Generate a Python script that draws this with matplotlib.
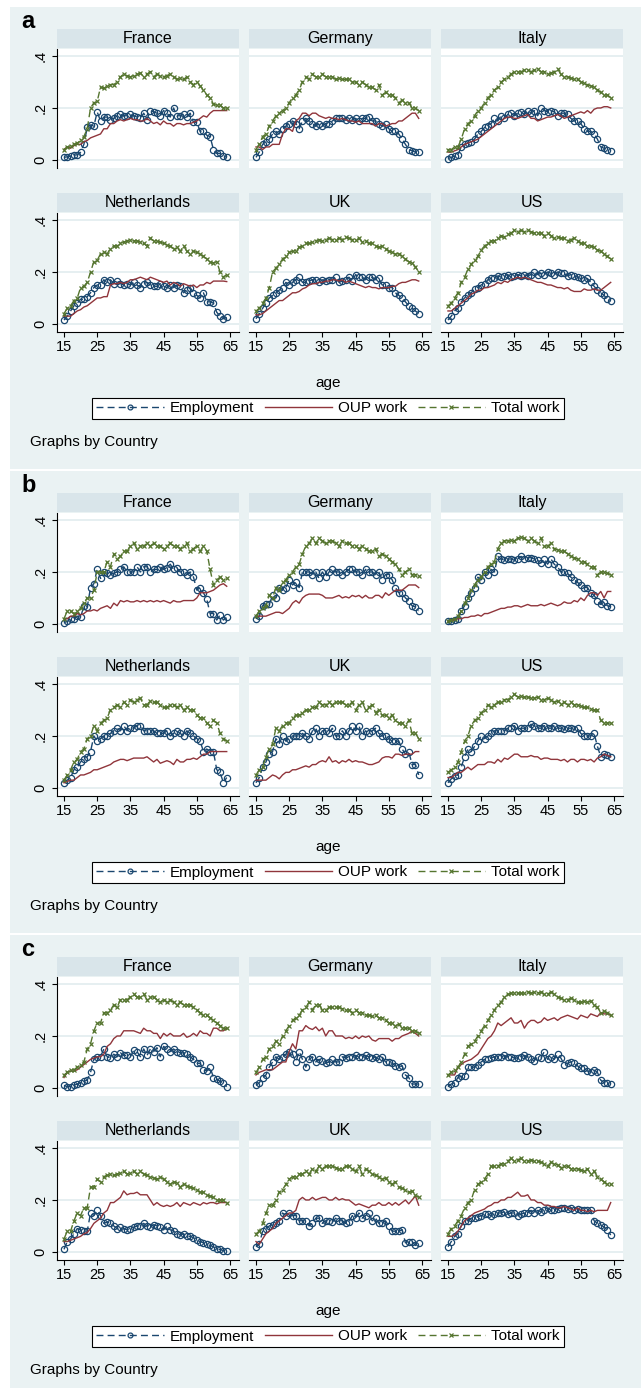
import matplotlib
matplotlib.use('Agg')
import matplotlib.pyplot as plt
from matplotlib.patches import Rectangle
from matplotlib.lines import Line2D

plt.rcParams['font.family'] = ['Liberation Sans', 'DejaVu Sans']

ages = list(range(15, 65))
countries = ["France", "Germany", "Italy", "Netherlands", "UK", "US"]
series_labels = ["Employment", "OUP work", "Total work"]
xtick_vals = [15, 25, 35, 45, 55, 65]
ytick_vals = [0, 0.2, 0.4]
ytick_text = ["0", ".2", ".4"]

# ---- panel a ----
a_fr_emp = [.010,.012,.015,.018,.020,.030,.060,.125,.135,.130,
            .185,.150,.165,.165,.155,.160,.170,.175,.170,.170,
            .175,.170,.165,.160,.180,.155,.190,.185,.180,.170,
            .190,.180,.165,.200,.170,.170,.175,.165,.180,.145,
            .145,.110,.110,.095,.090,.040,.025,.025,.015,.010]
a_fr_oup = [.040,.050,.045,.055,.060,.060,.070,.075,.085,.090,
            .095,.100,.120,.120,.140,.140,.150,.155,.150,.155,
            .160,.155,.155,.150,.150,.160,.150,.140,.145,.135,
            .150,.140,.140,.130,.140,.140,.135,.140,.140,.145,
            .150,.160,.170,.165,.180,.190,.190,.190,.190,.190]
a_fr_tot = [.040,.050,.055,.060,.065,.075,.090,.120,.200,.220,
            .225,.280,.275,.285,.290,.290,.300,.320,.330,.325,
            .320,.325,.330,.335,.320,.330,.340,.320,.330,.325,
            .320,.325,.330,.320,.310,.315,.310,.320,.300,.290,
            .300,.285,.270,.250,.240,.215,.210,.210,.200,.200]
a_de_emp = [.010,.030,.060,.070,.080,.100,.110,.100,.120,.130,
            .140,.150,.140,.120,.150,.160,.150,.140,.130,.140,
            .130,.140,.140,.150,.160,.160,.160,.155,.160,.155,
            .160,.150,.160,.160,.165,.150,.150,.140,.130,.140,
            .120,.110,.110,.100,.080,.060,.040,.035,.030,.030]
a_de_oup = [.050,.050,.040,.050,.050,.060,.060,.060,.100,.120,
            .120,.110,.150,.160,.180,.180,.170,.180,.180,.170,
            .165,.160,.165,.160,.160,.155,.160,.155,.150,.150,
            .145,.150,.140,.140,.140,.140,.130,.140,.140,.130,
            .135,.140,.140,.150,.150,.160,.170,.180,.180,.160]
a_de_tot = [.040,.060,.090,.100,.130,.150,.170,.180,.190,.200,
            .220,.240,.250,.270,.300,.320,.310,.330,.320,.320,
            .330,.320,.320,.320,.310,.315,.310,.310,.310,.300,
            .300,.290,.300,.290,.280,.280,.270,.290,.250,.260,
            .250,.250,.240,.220,.230,.220,.220,.200,.200,.190]
a_it_emp = [.005,.010,.015,.020,.050,.060,.065,.070,.080,.100,
            .110,.125,.130,.140,.160,.150,.170,.160,.175,.180,
            .170,.180,.185,.175,.190,.180,.190,.170,.200,.190,
            .185,.190,.185,.170,.180,.180,.175,.160,.150,.150,
            .140,.120,.110,.110,.100,.080,.050,.045,.040,.035]
a_it_oup = [.030,.030,.035,.040,.050,.060,.065,.070,.075,.080,
            .090,.100,.110,.120,.130,.140,.150,.160,.165,.165,
            .160,.160,.165,.170,.175,.160,.160,.150,.155,.160,
            .165,.165,.170,.175,.170,.160,.165,.170,.175,.180,
            .185,.180,.190,.180,.195,.200,.200,.205,.205,.200]
a_it_tot = [.040,.040,.050,.050,.080,.120,.140,.150,.170,.190,
            .200,.220,.240,.250,.270,.280,.300,.310,.320,.330,
            .340,.340,.340,.345,.345,.340,.345,.350,.340,.340,
            .330,.335,.340,.350,.330,.320,.320,.315,.310,.310,
            .300,.295,.290,.285,.280,.270,.260,.250,.250,.240]
a_nl_emp = [.015,.030,.050,.070,.080,.095,.095,.105,.120,.140,
            .150,.150,.170,.160,.170,.155,.165,.155,.150,.155,
            .150,.160,.150,.140,.155,.160,.150,.145,.145,.155,
            .145,.140,.150,.140,.150,.145,.120,.130,.140,.120,
            .110,.100,.120,.085,.085,.080,.045,.030,.020,.025]
a_nl_oup = [.030,.030,.030,.040,.050,.055,.065,.070,.080,.090,
            .100,.100,.105,.105,.150,.155,.155,.160,.155,.160,
            .170,.170,.175,.180,.175,.170,.180,.175,.170,.165,
            .160,.165,.150,.160,.155,.145,.155,.150,.145,.150,
            .140,.150,.150,.160,.155,.165,.165,.165,.165,.163]
a_nl_tot = [.040,.060,.070,.090,.100,.140,.145,.160,.200,.240,
            .245,.270,.275,.270,.290,.300,.300,.310,.315,.320,
            .325,.320,.320,.315,.310,.300,.330,.320,.320,.315,
            .310,.305,.300,.290,.295,.280,.300,.280,.270,.280,
            .275,.270,.260,.250,.240,.235,.240,.200,.180,.190]
a_uk_emp = [.020,.040,.060,.080,.100,.110,.120,.130,.140,.160,
            .150,.160,.170,.180,.160,.160,.165,.170,.170,.160,
            .170,.165,.170,.170,.180,.160,.165,.170,.180,.165,
            .190,.180,.180,.170,.180,.180,.170,.175,.150,.150,
            .140,.140,.120,.110,.100,.085,.070,.060,.050,.040]
a_uk_oup = [.035,.035,.040,.050,.060,.070,.080,.090,.090,.100,
            .110,.120,.120,.125,.135,.140,.150,.155,.155,.160,
            .160,.165,.165,.170,.170,.165,.170,.160,.165,.160,
            .155,.150,.145,.140,.145,.140,.140,.135,.140,.140,
            .140,.145,.145,.155,.160,.160,.165,.170,.170,.165]
a_uk_tot = [.050,.060,.080,.100,.140,.200,.215,.230,.250,.260,
            .275,.280,.280,.295,.300,.310,.310,.315,.320,.325,
            .320,.325,.330,.325,.325,.330,.325,.335,.330,.325,
            .325,.330,.315,.320,.310,.310,.300,.295,.300,.290,
            .280,.275,.270,.270,.260,.250,.240,.235,.220,.200]
a_us_emp = [.015,.030,.050,.060,.085,.100,.110,.120,.135,.140,
            .150,.155,.170,.175,.175,.185,.180,.185,.190,.180,
            .185,.190,.185,.190,.185,.190,.200,.190,.195,.190,
            .200,.195,.190,.200,.195,.195,.185,.190,.185,.180,
            .175,.170,.175,.160,.145,.130,.120,.110,.095,.090]
a_us_oup = [.050,.050,.060,.070,.080,.090,.100,.115,.120,.130,
            .130,.140,.140,.145,.150,.160,.155,.165,.160,.170,
            .175,.180,.175,.180,.175,.170,.165,.160,.160,.155,
            .150,.150,.145,.140,.140,.135,.140,.130,.125,.125,
            .125,.135,.130,.130,.135,.130,.130,.140,.150,.160]
a_us_tot = [.070,.080,.100,.120,.160,.180,.210,.230,.245,.260,
            .285,.300,.310,.320,.320,.330,.340,.335,.345,.350,
            .360,.355,.360,.355,.360,.355,.350,.350,.350,.340,
            .350,.340,.330,.335,.330,.330,.320,.325,.330,.320,
            .310,.310,.300,.300,.295,.285,.280,.270,.260,.250]

# ---- panel b ----
b_fr_emp = [.005,.010,.020,.020,.030,.025,.070,.065,.140,.155,
            .210,.175,.200,.195,.190,.195,.200,.210,.220,.200,
            .200,.200,.220,.200,.220,.220,.200,.210,.210,.220,
            .210,.215,.230,.210,.215,.200,.200,.190,.200,.180,
            .130,.140,.120,.095,.040,.040,.015,.035,.015,.025]
b_fr_oup = [.020,.020,.030,.030,.040,.035,.040,.050,.050,.055,
            .050,.060,.065,.070,.060,.080,.070,.090,.085,.090,
            .085,.085,.090,.085,.090,.085,.090,.085,.090,.085,
            .090,.085,.080,.090,.085,.085,.090,.090,.090,.090,
            .100,.120,.120,.120,.125,.130,.140,.150,.155,.145]
b_fr_tot = [.020,.050,.050,.040,.050,.060,.080,.100,.100,.130,
            .200,.200,.200,.240,.220,.270,.250,.260,.280,.280,
            .300,.310,.290,.300,.300,.310,.300,.310,.300,.300,
            .290,.300,.310,.300,.300,.290,.300,.310,.280,.290,
            .300,.280,.300,.280,.210,.150,.170,.180,.170,.175]
b_de_emp = [.020,.030,.070,.075,.075,.110,.100,.140,.130,.140,
            .170,.150,.160,.140,.200,.200,.200,.190,.200,.175,
            .200,.180,.200,.210,.200,.200,.190,.200,.210,.210,
            .200,.200,.190,.210,.200,.200,.190,.200,.170,.190,
            .190,.170,.140,.120,.120,.100,.090,.070,.065,.050]
b_de_oup = [.030,.030,.030,.030,.035,.040,.045,.045,.040,.050,
            .060,.080,.090,.080,.100,.110,.115,.115,.115,.115,
            .110,.100,.100,.100,.105,.110,.100,.105,.100,.110,
            .105,.110,.100,.110,.100,.100,.110,.110,.100,.120,
            .110,.120,.130,.130,.130,.140,.150,.150,.150,.140]
b_de_tot = [.030,.050,.060,.070,.110,.100,.140,.130,.160,.170,
            .190,.200,.220,.230,.270,.300,.310,.330,.310,.330,
            .320,.310,.320,.320,.310,.300,.320,.310,.310,.300,
            .300,.290,.300,.290,.280,.280,.290,.260,.270,.260,
            .250,.240,.230,.210,.190,.200,.210,.190,.190,.185]
b_it_emp = [.010,.010,.015,.020,.050,.070,.100,.120,.140,.180,
            .170,.200,.190,.210,.200,.260,.250,.245,.250,.250,
            .245,.250,.260,.250,.255,.255,.250,.245,.235,.250,
            .230,.250,.230,.220,.200,.200,.195,.180,.170,.160,
            .150,.140,.140,.120,.110,.090,.075,.085,.070,.065]
b_it_oup = [.010,.015,.015,.020,.020,.025,.025,.030,.030,.035,
            .030,.040,.040,.045,.050,.055,.060,.060,.065,.065,
            .070,.070,.065,.070,.075,.070,.070,.070,.075,.070,
            .075,.080,.075,.070,.075,.085,.080,.080,.090,.085,
            .100,.090,.110,.120,.120,.110,.125,.100,.125,.125]
b_it_tot = [.010,.015,.020,.030,.050,.080,.100,.130,.150,.170,
            .180,.200,.220,.230,.240,.290,.310,.320,.320,.325,
            .320,.330,.335,.330,.320,.330,.320,.310,.330,.300,
            .300,.310,.290,.285,.280,.280,.270,.260,.255,.250,
            .240,.240,.230,.220,.220,.190,.200,.200,.195,.190]
b_nl_emp = [.020,.030,.040,.070,.080,.100,.110,.120,.140,.200,
            .180,.190,.200,.200,.210,.220,.230,.220,.240,.220,
            .230,.230,.240,.240,.220,.220,.220,.220,.210,.210,
            .210,.220,.200,.210,.220,.210,.200,.220,.210,.200,
            .190,.180,.140,.150,.140,.140,.070,.060,.020,.040]
b_nl_oup = [.020,.025,.030,.030,.040,.050,.050,.055,.060,.070,
            .070,.075,.080,.085,.090,.100,.105,.110,.110,.105,
            .110,.115,.115,.115,.115,.120,.110,.100,.110,.095,
            .100,.105,.100,.090,.110,.100,.100,.110,.110,.115,
            .110,.120,.130,.130,.140,.140,.140,.140,.140,.140]
b_nl_tot = [.030,.050,.070,.100,.110,.140,.150,.190,.200,.240,
            .220,.250,.260,.270,.300,.310,.320,.310,.330,.320,
            .340,.330,.340,.345,.320,.320,.335,.330,.330,.320,
            .310,.310,.320,.320,.310,.320,.300,.310,.300,.300,
            .280,.270,.270,.250,.240,.260,.250,.210,.190,.180]
b_uk_emp = [.020,.040,.080,.100,.130,.140,.190,.170,.200,.180,
            .190,.200,.200,.200,.210,.200,.190,.220,.230,.200,
            .220,.220,.210,.230,.200,.200,.220,.200,.220,.240,
            .220,.240,.200,.220,.210,.220,.230,.210,.200,.200,
            .190,.180,.180,.180,.150,.130,.140,.090,.090,.050]
b_uk_oup = [.030,.030,.030,.030,.040,.050,.045,.035,.050,.060,
            .060,.070,.070,.075,.080,.085,.080,.090,.090,.100,
            .105,.100,.120,.100,.105,.095,.105,.100,.110,.100,
            .105,.100,.100,.095,.090,.090,.095,.100,.115,.120,
            .120,.115,.130,.130,.125,.130,.130,.130,.140,.140]
b_uk_tot = [.050,.070,.080,.120,.150,.170,.230,.220,.240,.250,
            .250,.270,.280,.280,.290,.300,.300,.310,.310,.330,
            .320,.320,.330,.320,.330,.330,.330,.320,.320,.330,
            .300,.320,.330,.300,.310,.320,.290,.300,.280,.280,
            .270,.280,.260,.250,.250,.240,.260,.210,.210,.190]
b_us_emp = [.020,.035,.045,.050,.080,.120,.150,.140,.160,.180,
            .200,.190,.200,.210,.220,.220,.220,.220,.230,.230,
            .240,.220,.230,.230,.230,.245,.240,.230,.230,.240,
            .230,.230,.240,.230,.230,.225,.230,.230,.225,.230,
            .210,.200,.200,.200,.210,.160,.120,.130,.125,.120]
b_us_oup = [.040,.040,.050,.060,.060,.070,.080,.070,.080,.090,
            .090,.090,.100,.100,.095,.110,.100,.115,.110,.120,
            .130,.130,.120,.120,.120,.125,.120,.120,.110,.115,
            .115,.110,.110,.110,.105,.110,.100,.110,.110,.100,
            .110,.110,.105,.110,.100,.115,.120,.130,.125,.120]
b_us_tot = [.060,.070,.080,.100,.140,.180,.200,.240,.260,.270,
            .290,.300,.320,.310,.320,.330,.330,.340,.340,.350,
            .360,.350,.355,.350,.350,.345,.345,.350,.340,.340,
            .345,.340,.330,.335,.325,.330,.320,.330,.320,.320,
            .315,.310,.310,.305,.300,.300,.260,.250,.250,.250]

# ---- panel c ----
c_fr_emp = [.010,.005,.005,.010,.015,.020,.025,.030,.060,.110,
            .120,.120,.150,.120,.115,.130,.120,.135,.125,.125,
            .120,.145,.140,.120,.150,.125,.150,.140,.155,.120,
            .160,.150,.140,.150,.140,.135,.135,.130,.120,.110,
            .095,.095,.070,.065,.080,.040,.035,.025,.020,.005]
c_fr_oup = [.040,.060,.065,.065,.070,.080,.090,.100,.110,.115,
            .120,.120,.130,.160,.170,.190,.200,.200,.220,.220,
            .220,.220,.215,.210,.230,.220,.220,.210,.210,.190,
            .210,.200,.210,.200,.200,.200,.210,.195,.200,.210,
            .200,.220,.210,.210,.200,.230,.230,.220,.220,.230]
c_fr_tot = [.050,.060,.070,.070,.080,.090,.100,.150,.170,.220,
            .250,.250,.290,.290,.300,.320,.310,.340,.340,.340,
            .350,.360,.350,.350,.360,.340,.350,.350,.340,.330,
            .340,.330,.340,.330,.320,.330,.320,.320,.320,.310,
            .300,.290,.280,.280,.270,.260,.250,.240,.230,.230]
c_de_emp = [.010,.020,.040,.050,.080,.100,.120,.110,.120,.130,
            .140,.130,.100,.140,.110,.080,.110,.120,.100,.110,
            .105,.095,.100,.110,.100,.100,.120,.115,.120,.120,
            .125,.120,.120,.125,.120,.115,.120,.110,.120,.100,
            .100,.095,.085,.080,.085,.050,.040,.015,.015,.015]
c_de_oup = [.050,.060,.065,.070,.070,.070,.080,.090,.100,.100,
            .140,.170,.150,.220,.220,.240,.230,.225,.235,.220,
            .230,.200,.220,.220,.200,.200,.200,.190,.195,.190,
            .200,.190,.200,.195,.200,.185,.180,.190,.190,.190,
            .190,.180,.190,.190,.200,.205,.210,.220,.210,.200]
c_de_tot = [.060,.080,.110,.120,.150,.160,.180,.170,.200,.220,
            .240,.260,.270,.280,.300,.310,.330,.300,.320,.320,
            .300,.300,.310,.310,.310,.310,.305,.300,.300,.290,
            .300,.290,.290,.280,.280,.275,.280,.270,.270,.260,
            .250,.250,.240,.245,.230,.230,.230,.220,.220,.210]
c_it_emp = [.005,.015,.020,.040,.045,.045,.080,.080,.080,.090,
            .100,.110,.110,.115,.120,.120,.120,.125,.120,.120,
            .115,.115,.120,.125,.120,.110,.105,.120,.115,.140,
            .110,.120,.110,.130,.115,.090,.095,.100,.095,.085,
            .075,.075,.065,.060,.070,.060,.030,.020,.020,.015]
c_it_oup = [.050,.050,.050,.080,.090,.100,.105,.110,.120,.130,
            .150,.170,.190,.200,.220,.250,.240,.250,.260,.270,
            .250,.250,.260,.230,.250,.260,.260,.250,.255,.270,
            .260,.265,.270,.260,.270,.275,.280,.275,.270,.265,
            .280,.275,.270,.285,.280,.275,.290,.285,.285,.280]
c_it_tot = [.050,.060,.070,.080,.100,.130,.160,.170,.180,.200,
            .220,.240,.260,.280,.300,.320,.330,.350,.360,.365,
            .365,.365,.365,.365,.370,.365,.370,.365,.370,.360,
            .360,.370,.360,.350,.345,.340,.340,.345,.340,.330,
            .330,.335,.330,.335,.320,.310,.290,.295,.290,.280]
c_nl_emp = [.010,.040,.050,.070,.090,.085,.080,.080,.150,.140,
            .160,.140,.110,.115,.110,.100,.090,.095,.090,.085,
            .090,.095,.100,.100,.110,.100,.095,.105,.100,.095,
            .085,.100,.085,.080,.070,.065,.070,.060,.060,.055,
            .045,.040,.035,.030,.025,.020,.010,.010,.005,.005]
c_nl_oup = [.040,.040,.045,.050,.055,.060,.070,.075,.090,.110,
            .120,.130,.150,.160,.190,.190,.200,.210,.235,.220,
            .225,.225,.230,.220,.220,.220,.200,.180,.190,.180,
            .175,.180,.175,.180,.190,.175,.190,.185,.180,.190,
            .185,.180,.190,.185,.190,.190,.185,.190,.190,.190]
c_nl_tot = [.050,.080,.080,.120,.150,.140,.170,.170,.250,.250,
            .280,.270,.290,.295,.300,.295,.300,.305,.310,.300,
            .305,.310,.300,.310,.300,.295,.290,.285,.280,.290,
            .280,.270,.260,.270,.265,.250,.260,.255,.250,.245,
            .240,.230,.230,.220,.215,.210,.200,.200,.200,.190]
c_uk_emp = [.020,.030,.080,.090,.100,.105,.110,.120,.150,.140,
            .150,.140,.140,.120,.120,.120,.100,.110,.130,.130,
            .110,.120,.120,.115,.130,.120,.120,.110,.115,.140,
            .130,.150,.130,.140,.150,.120,.130,.110,.110,.120,
            .100,.080,.080,.080,.085,.035,.040,.040,.025,.035]
c_uk_oup = [.040,.030,.050,.070,.080,.090,.110,.120,.130,.140,
            .150,.150,.160,.200,.210,.200,.200,.210,.200,.205,
            .210,.210,.200,.200,.210,.200,.205,.200,.200,.190,
            .180,.185,.180,.175,.170,.180,.180,.190,.180,.180,
            .190,.180,.190,.180,.190,.200,.185,.200,.215,.180]
c_uk_tot = [.070,.080,.110,.150,.180,.180,.200,.230,.240,.260,
            .280,.290,.290,.300,.300,.310,.300,.320,.310,.330,
            .320,.330,.330,.330,.325,.320,.320,.330,.330,.320,
            .310,.330,.300,.320,.310,.300,.295,.290,.280,.285,
            .270,.260,.270,.250,.245,.240,.230,.235,.220,.210]
c_us_emp = [.020,.040,.060,.070,.100,.120,.120,.130,.130,.135,
            .140,.145,.145,.140,.145,.150,.150,.155,.145,.150,
            .150,.140,.145,.150,.150,.160,.150,.160,.155,.160,
            .170,.160,.160,.165,.170,.170,.165,.170,.160,.165,
            .160,.160,.160,.160,.120,.110,.105,.095,.085,.065]
c_us_oup = [.060,.060,.065,.080,.100,.120,.130,.140,.150,.155,
            .160,.165,.175,.180,.190,.190,.200,.200,.210,.210,
            .220,.230,.215,.215,.220,.200,.200,.190,.190,.180,
            .180,.175,.175,.170,.170,.175,.170,.165,.160,.170,
            .160,.160,.155,.160,.155,.160,.160,.160,.160,.190]
c_us_tot = [.070,.090,.100,.120,.140,.170,.190,.200,.240,.260,
            .270,.280,.300,.330,.330,.330,.340,.340,.350,.360,
            .350,.355,.360,.350,.350,.355,.350,.350,.345,.340,
            .330,.345,.340,.335,.325,.330,.330,.320,.320,.320,
            .315,.310,.320,.300,.310,.290,.280,.270,.260,.260]

panels = {
    "a": [(a_fr_emp, a_fr_oup, a_fr_tot), (a_de_emp, a_de_oup, a_de_tot), (a_it_emp, a_it_oup, a_it_tot),
          (a_nl_emp, a_nl_oup, a_nl_tot), (a_uk_emp, a_uk_oup, a_uk_tot), (a_us_emp, a_us_oup, a_us_tot)],
    "b": [(b_fr_emp, b_fr_oup, b_fr_tot), (b_de_emp, b_de_oup, b_de_tot), (b_it_emp, b_it_oup, b_it_tot),
          (b_nl_emp, b_nl_oup, b_nl_tot), (b_uk_emp, b_uk_oup, b_uk_tot), (b_us_emp, b_us_oup, b_us_tot)],
    "c": [(c_fr_emp, c_fr_oup, c_fr_tot), (c_de_emp, c_de_oup, c_de_tot), (c_it_emp, c_it_oup, c_it_tot),
          (c_nl_emp, c_nl_oup, c_nl_tot), (c_uk_emp, c_uk_oup, c_uk_tot), (c_us_emp, c_us_oup, c_us_tot)],
}

W, H = 643, 1388
BG = '#EAF2F3'
HDR = '#D9E5EA'
GRID = '#E6EFF1'
NAVY = '#1A476F'
MAROON = '#90353B'
GREEN = '#55752F'
DASH = (0, (5, 3))

fig = plt.figure(figsize=(W / 100, H / 100), dpi=100)
fig.patch.set_facecolor('white')


def box(x0, y0, x1, y1):
    return [x0 / W, 1 - y1 / H, (x1 - x0) / W, (y1 - y0) / H]


col_x = [57, 249, 441]
col_w = 182
tops = [7, 471, 935]

for p, T in zip(["a", "b", "c"], tops):
    # panel background, kept behind all axes
    fig.patches.append(Rectangle((10 / W, 1 - (T + 462) / H), 631 / W, 462 / H,
                                 transform=fig.transFigure, facecolor=BG,
                                 edgecolor='none', zorder=-5))
    fig.text(21 / W, 1 - (T + 15) / H, p, fontsize=17, fontweight='bold',
             ha='left', va='center')

    for i, country in enumerate(countries):
        r, k = divmod(i, 3)
        x0 = col_x[k]
        hy = T + 22 + r * 164

        hax = fig.add_axes(box(x0, hy, x0 + col_w, hy + 19))
        hax.set_facecolor(HDR)
        hax.set_xticks([])
        hax.set_yticks([])
        for s in hax.spines.values():
            s.set_visible(False)
        hax.text(0.5, 0.48, country, ha='center', va='center', fontsize=11.5,
                 transform=hax.transAxes)

        ax = fig.add_axes(box(x0, hy + 20, x0 + col_w, hy + 139))
        ax.set_facecolor('white')
        ax.set_xlim(12.9, 67.7)
        ax.set_ylim(-0.031, 0.427)
        for yv in ytick_vals:
            ax.axhline(yv, color=GRID, lw=1.4, zorder=0)
        for s in ax.spines.values():
            s.set_visible(False)

        emp, oup, tot = panels[p][i]
        ax.plot(ages, emp, color=NAVY, lw=1.0, ls=DASH, marker='o', ms=4.5,
                mfc='none', mec=NAVY, mew=0.9)
        ax.plot(ages, oup, color=MAROON, lw=1.0)
        ax.plot(ages, tot, color=GREEN, lw=1.0, ls=DASH, marker='x', ms=3.3,
                mew=0.9)

        if k == 0:
            ax.spines['left'].set_visible(True)
            ax.spines['left'].set_linewidth(0.8)
            ax.set_yticks(ytick_vals)
            ax.set_yticklabels(ytick_text, rotation=90, va='center')
            ax.tick_params(axis='y', length=3.6, width=0.8, pad=3, labelsize=10.5)
        else:
            ax.set_yticks([])
        if r == 1:
            ax.spines['bottom'].set_visible(True)
            ax.spines['bottom'].set_linewidth(0.8)
            ax.set_xticks(xtick_vals)
            ax.set_xticklabels([str(v) for v in xtick_vals])
            ax.tick_params(axis='x', length=3.6, width=0.8, pad=2, labelsize=10.5)
        else:
            ax.set_xticks([])

    fig.text(328 / W, 1 - (T + 376) / H, "age", ha='center', va='center',
             fontsize=11)

    handles = [
        Line2D([], [], color=NAVY, lw=1.0, ls=DASH, marker='o', ms=3.5,
               mfc='none', mec=NAVY, mew=0.9),
        Line2D([], [], color=MAROON, lw=1.0),
        Line2D([], [], color=GREEN, lw=1.0, ls=DASH, marker='x', ms=3,
               mew=0.9),
    ]
    leg = fig.legend(handles, series_labels, loc='center',
                     bbox_to_anchor=(328 / W, 1 - (T + 401.5) / H), ncol=3,
                     fontsize=11, frameon=True, fancybox=False,
                     edgecolor='black', facecolor='white', framealpha=1,
                     borderpad=0.25, handlelength=4.4, handletextpad=0.4,
                     columnspacing=0.7, numpoints=1)
    leg.get_frame().set_linewidth(0.8)

    fig.text(30 / W, 1 - (T + 435) / H, "Graphs by Country", ha='left',
             va='center', fontsize=11)

fig.savefig('out.png', dpi=100)
